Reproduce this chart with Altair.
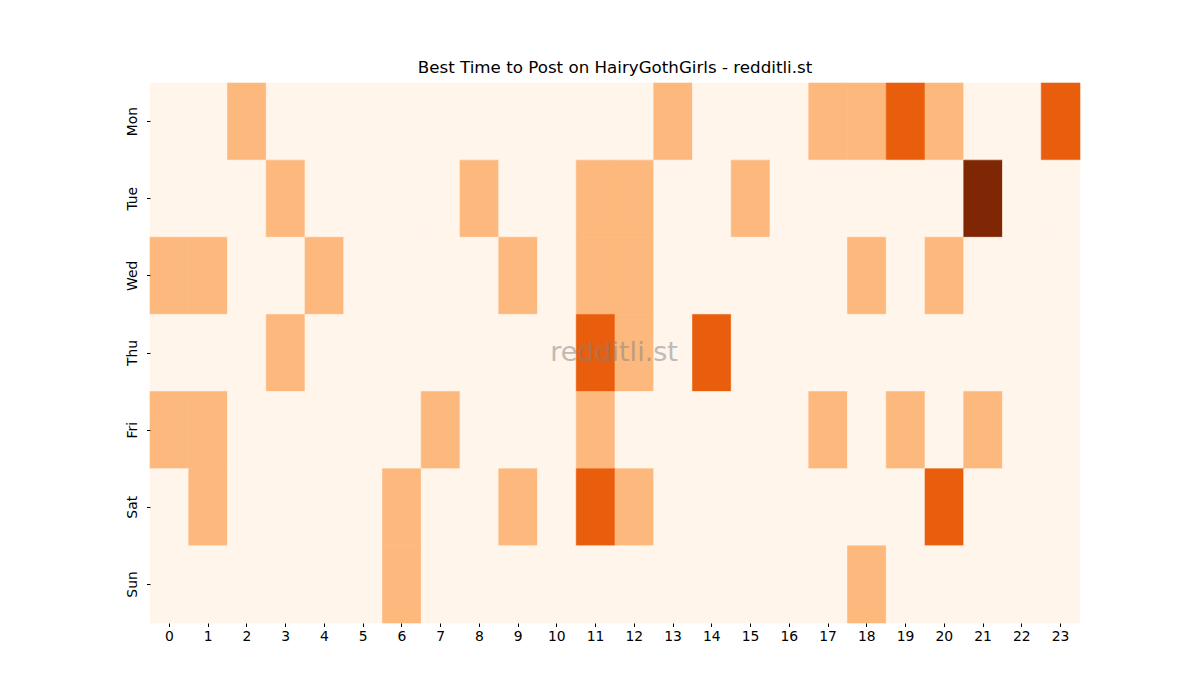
import altair as alt
import pandas as pd

# activity level per day/hour (0 = none .. 3 = best)
days = ["Mon", "Tue", "Wed", "Thu", "Fri", "Sat", "Sun"]
hours = list(range(24))

mon = [0, 0, 1, 0, 0, 0, 0, 0, 0, 0, 0, 0, 0, 1, 0, 0, 0, 1, 1, 2, 1, 0, 0, 2]
tue = [0, 0, 0, 1, 0, 0, 0, 0, 1, 0, 0, 1, 1, 0, 0, 1, 0, 0, 0, 0, 0, 3, 0, 0]
wed = [1, 1, 0, 0, 1, 0, 0, 0, 0, 1, 0, 1, 1, 0, 0, 0, 0, 0, 1, 0, 1, 0, 0, 0]
thu = [0, 0, 0, 1, 0, 0, 0, 0, 0, 0, 0, 2, 1, 0, 2, 0, 0, 0, 0, 0, 0, 0, 0, 0]
fri = [1, 1, 0, 0, 0, 0, 0, 1, 0, 0, 0, 1, 0, 0, 0, 0, 0, 1, 0, 1, 0, 1, 0, 0]
sat = [0, 1, 0, 0, 0, 0, 1, 0, 0, 1, 0, 2, 1, 0, 0, 0, 0, 0, 0, 0, 2, 0, 0, 0]
sun = [0, 0, 0, 0, 0, 0, 1, 0, 0, 0, 0, 0, 0, 0, 0, 0, 0, 0, 1, 0, 0, 0, 0, 0]

levels = [0, 1, 2, 3]
level_colors = ["#fff5eb", "#fdb97d", "#e95e0d", "#7f2704"]

rows = []
for day, vals in zip(days, [mon, tue, wed, thu, fri, sat, sun]):
    for h, v in zip(hours, vals):
        rows.append({"day": day, "hour": h, "level": v})
df = pd.DataFrame(rows)

font = "DejaVu Sans"
lvl_scale = alt.Scale(domain=levels, range=level_colors)

heat = alt.Chart(df).mark_rect(strokeWidth=0.6, opacity=1, fillOpacity=1, strokeOpacity=1).encode(
    x=alt.X("hour:O", sort=hours, title=None,
            axis=alt.Axis(labelAngle=0, domain=False, tickSize=3.5, tickColor="black",
                          labelColor="black", labelFontSize=13.9, labelFont=font, labelPadding=3)),
    y=alt.Y("day:O", sort=days, title=None,
            axis=alt.Axis(labelAngle=270, domain=False, tickSize=3.5, tickColor="black",
                          labelColor="black", labelFontSize=13.9, labelFont=font, labelPadding=7,
                          labelAlign="center", labelBaseline="bottom")),
    color=alt.Color("level:O", scale=lvl_scale, legend=None),
    stroke=alt.Stroke("level:O", scale=lvl_scale, legend=None),
)

mark = alt.Chart(pd.DataFrame({"t": ["redditli.st"]})).mark_text(
    font=font, fontSize=27, color="gray", opacity=0.5
).encode(text="t:N", x=alt.value(464), y=alt.value(270))

chart = (heat + mark).properties(
    width=930, height=540,
    autosize=alt.AutoSizeParams(type="none"),
    padding={"left": 142, "top": 75, "right": 112, "bottom": 69},
    title=alt.Title("Best Time to Post on HairyGothGirls - redditli.st",
                    font=font, fontSize=16.7, fontWeight="normal", color="black", offset=6),
).configure_view(stroke=None).configure_scale(bandPaddingInner=0, bandPaddingOuter=0)

chart.save("out.html", embed_options={"renderer": "svg", "actions": False})
